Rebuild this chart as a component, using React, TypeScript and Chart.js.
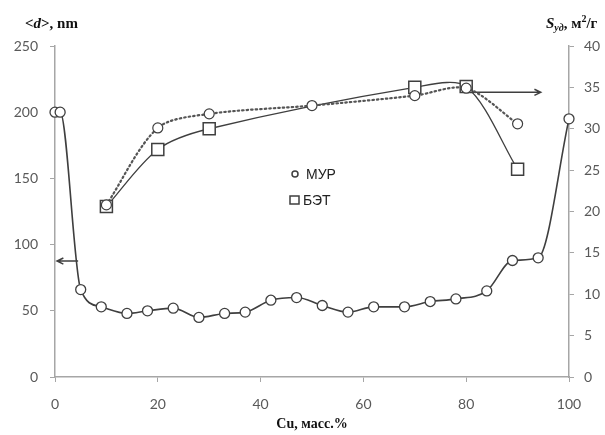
import React, { useEffect, useRef } from "react";
import { Chart, registerables } from "chart.js";

Chart.register(...registerables);

// ---- data ----
const cuX = [0, 1, 5, 9, 14, 18, 23, 28, 33, 37, 42, 47, 52, 57, 62, 68, 73, 78, 84, 89, 94, 100];
const dSize = [200, 200, 66, 53, 48, 50, 52, 45, 48, 49, 58, 60, 54, 49, 53, 53, 57, 59, 65, 88, 90, 195];
const murX = [10, 20, 30, 50, 70, 80, 90];
const murS = [20.8, 30.1, 31.8, 32.8, 34.0, 34.9, 30.6];
const betX = [10, 20, 30, 70, 80, 90];
const betS = [20.6, 27.5, 30.0, 35.0, 35.1, 25.1];
const legendLabels = ["МУР", "БЭТ"];
const xTitle = "Cu, масс.%";
// arrows: [x, value] start -> end
const leftArrow = [[4.5, 87.6], [0.4, 87.6]];
const rightArrow = [[81, 34.4], [94.5, 34.4]];

const LINE = "#3f3f3f";
const AXIS = "#a6a6a6";
const TICK = "#595959";

function drawArrow(ctx: CanvasRenderingContext2D, x1: number, y1: number, x2: number, y2: number) {
  ctx.save();
  ctx.strokeStyle = LINE;
  ctx.lineWidth = 1.5;
  ctx.beginPath();
  ctx.moveTo(x1, y1);
  ctx.lineTo(x2, y2);
  const ang = Math.atan2(y2 - y1, x2 - x1);
  const h = 7;
  ctx.moveTo(x2 - h * Math.cos(ang - 0.45), y2 - h * Math.sin(ang - 0.45));
  ctx.lineTo(x2, y2);
  ctx.lineTo(x2 - h * Math.cos(ang + 0.45), y2 - h * Math.sin(ang + 0.45));
  ctx.stroke();
  ctx.restore();
}

const decorPlugin = {
  id: "decor",
  beforeDatasetsDraw(chart: any) {
    const ctx = chart.ctx as CanvasRenderingContext2D;
    const xs = chart.scales.x;
    const yl = chart.scales.y;
    const yr = chart.scales.y1;
    drawArrow(
      ctx,
      xs.getPixelForValue(leftArrow[0][0]), yl.getPixelForValue(leftArrow[0][1]),
      xs.getPixelForValue(leftArrow[1][0]), yl.getPixelForValue(leftArrow[1][1])
    );
    drawArrow(
      ctx,
      xs.getPixelForValue(rightArrow[0][0]), yr.getPixelForValue(rightArrow[0][1]),
      xs.getPixelForValue(rightArrow[1][0]), yr.getPixelForValue(rightArrow[1][1])
    );
  },
  afterDraw(chart: any) {
    const ctx = chart.ctx as CanvasRenderingContext2D;
    const ca = chart.chartArea;
    ctx.save();
    ctx.fillStyle = "#111";
    ctx.textBaseline = "alphabetic";
    ctx.textAlign = "left";
    // left title <d>, nm
    let x = 25;
    const yT = 28;
    ctx.font = "bold 15px 'Liberation Serif'";
    ctx.fillText("<", x, yT); x += ctx.measureText("<").width;
    ctx.font = "italic bold 15px 'Liberation Serif'";
    ctx.fillText("d", x, yT); x += ctx.measureText("d").width;
    ctx.font = "bold 15px 'Liberation Serif'";
    ctx.fillText(">, nm", x, yT);
    // right title S_уд, м²/г
    x = 546;
    ctx.font = "italic bold 15px 'Liberation Serif'";
    ctx.fillText("S", x, yT); x += ctx.measureText("S").width;
    ctx.font = "italic bold 10px 'Liberation Serif'";
    ctx.fillText("уд", x, yT + 3); x += ctx.measureText("уд").width;
    ctx.font = "bold 15px 'Liberation Serif'";
    ctx.fillText(", м", x, yT); x += ctx.measureText(", м").width;
    ctx.font = "bold 10px 'Liberation Serif'";
    ctx.fillText("2", x, yT - 6); x += ctx.measureText("2").width;
    ctx.font = "bold 15px 'Liberation Serif'";
    ctx.fillText("/г", x, yT);
    // x title
    ctx.textAlign = "center";
    ctx.font = "bold 14px 'Liberation Serif'";
    ctx.fillText(xTitle, (ca.left + ca.right) / 2, 428);

    // legend
    const lx = ca.left + 240;
    const ly1 = ca.top + 128;
    const ly2 = ca.top + 154;
    ctx.strokeStyle = LINE;
    ctx.lineWidth = 1.5;
    ctx.beginPath();
    ctx.arc(lx, ly1, 3, 0, Math.PI * 2);
    ctx.stroke();
    ctx.strokeRect(lx - 5, ly2 - 4, 9, 8);
    ctx.textAlign = "left";
    ctx.textBaseline = "middle";
    ctx.fillStyle = "#222";
    ctx.font = "14px 'Liberation Sans'";
    ctx.fillText(legendLabels[0], lx + 11, ly1 + 1);
    ctx.fillText(legendLabels[1], lx + 8, ly2 + 1);
    ctx.restore();
  },
};

export default function App() {
  const ref = useRef<HTMLCanvasElement | null>(null);
  useEffect(() => {
    document.body.style.margin = "0";
    const canvas = ref.current;
    if (!canvas) return;
    const tickFont = { family: "Lato", size: 14 };
    const chart = new Chart(canvas, {
      type: "line",
      data: {
        datasets: [
          {
            label: "d",
            data: cuX.map((x, i) => ({ x, y: dSize[i] })),
            yAxisID: "y",
            borderColor: LINE,
            borderWidth: 1.6,
            pointRadius: 5,
            pointBorderWidth: 1.3,
            pointBackgroundColor: "#fff",
            pointBorderColor: LINE,
            cubicInterpolationMode: "monotone",
            clip: false,
          },
          {
            label: legendLabels[0],
            data: murX.map((x, i) => ({ x, y: murS[i] })),
            yAxisID: "y1",
            borderColor: "#555",
            borderWidth: 2.2,
            borderDash: [1.5, 3],
            borderCapStyle: "round",
            tension: 0.3,
            pointRadius: 5,
            pointBorderWidth: 1.2,
            pointBackgroundColor: "#fff",
            pointBorderColor: LINE,
            clip: false,
          },
          {
            label: legendLabels[1],
            data: betX.map((x, i) => ({ x, y: betS[i] })),
            yAxisID: "y1",
            borderColor: LINE,
            borderWidth: 1.3,
            tension: 0.3,
            pointStyle: "rect",
            pointRadius: 8.5,
            pointBorderWidth: 1.5,
            pointBackgroundColor: "#fff",
            pointBorderColor: LINE,
            clip: false,
          },
        ] as any,
      },
      options: {
        animation: false,
        responsive: false,
        events: [],
        layout: { padding: { top: 46, left: 0, right: 0, bottom: 0 } },
        plugins: { legend: { display: false }, tooltip: { enabled: false } },
        scales: {
          x: {
            type: "linear",
            min: 0,
            max: 100,
            ticks: { stepSize: 20, color: TICK, font: tickFont, padding: 14 },
            grid: { drawOnChartArea: false, tickLength: 5, color: AXIS },
            border: { color: AXIS, width: 1.5 },
            afterFit: (s: any) => { s.height = 58; },
          },
          y: {
            type: "linear",
            position: "left",
            min: 0,
            max: 250,
            ticks: { stepSize: 50, color: TICK, font: tickFont, padding: 12 },
            grid: { drawOnChartArea: false, tickLength: 5, color: AXIS },
            border: { color: AXIS, width: 1.5 },
            afterFit: (s: any) => { s.width = 55; },
          },
          y1: {
            type: "linear",
            position: "right",
            min: 0,
            max: 40,
            ticks: { stepSize: 5, color: TICK, font: tickFont, padding: 10 },
            grid: { drawOnChartArea: false, tickLength: 5, color: AXIS },
            border: { color: AXIS, width: 1.5 },
            afterFit: (s: any) => { s.width = 36; },
          },
        },
      } as any,
      plugins: [decorPlugin],
    });
    return () => chart.destroy();
  }, []);
  return (
    <div style={{ width: 605, height: 435, background: "#fff" }}>
      <canvas ref={ref} width={605} height={435} />
    </div>
  );
}
